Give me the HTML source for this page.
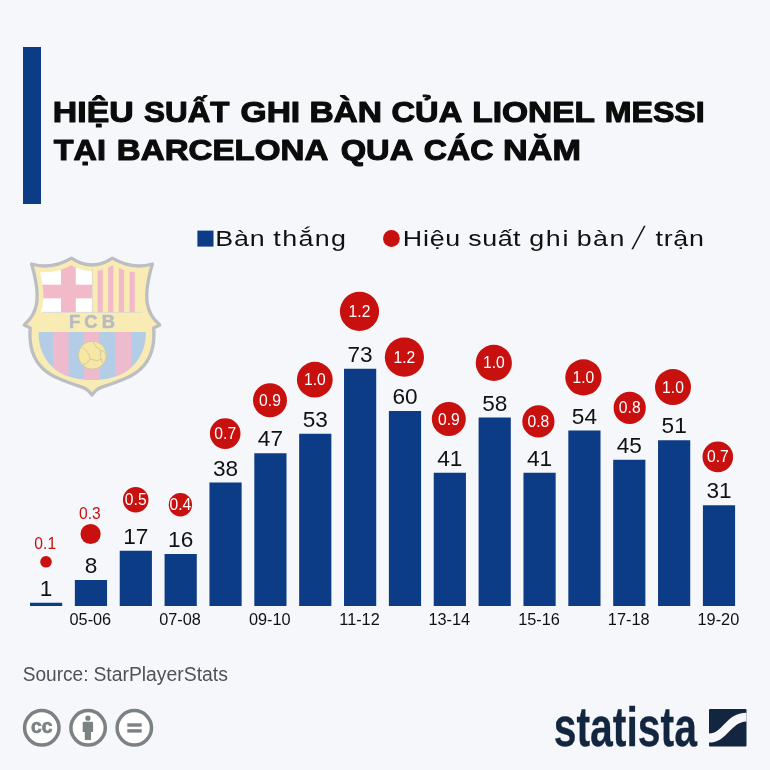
<!DOCTYPE html>
<html lang="vi"><head><meta charset="utf-8"><title>Hiệu suất ghi bàn của Lionel Messi</title>
<style>
html,body{margin:0;padding:0;background:#f5f7fb;}
body{width:770px;height:770px;overflow:hidden;font-family:"Liberation Sans",sans-serif;}
svg{display:block}
text{font-family:"Liberation Sans",sans-serif}
.t{font-weight:bold;font-size:30.2px;fill:#0b0b0b;stroke:#0b0b0b;stroke-width:1.1px;stroke-linejoin:round}
.lg{font-size:22px;fill:#111}
.v{font-size:22.6px;fill:#111;text-anchor:middle}
.e{font-size:16.5px;fill:#fff;text-anchor:middle}
.er{font-size:16.5px;fill:#c8100f;text-anchor:middle}
.ax{font-size:16.3px;fill:#111;text-anchor:middle}
.src{font-size:20px;fill:#505255}
.st{font-size:55px;font-weight:bold;fill:#13263f;stroke:#13263f;stroke-width:0.3px}
</style></head><body>
<svg width="770" height="770" viewBox="0 0 770 770">
<rect width="770" height="770" fill="#f5f7fb"/>
<rect x="23" y="47" width="18" height="157" fill="#0d3c86"/>
<text id="w0" class="t" transform="translate(52.84 121.8) scale(1.0 1)" textLength="80.76" lengthAdjust="spacingAndGlyphs">HIỆU</text>
<text id="w1" class="t" transform="translate(144.10 121.8) scale(1.0 1)" textLength="85.37" lengthAdjust="spacingAndGlyphs">SUẤT</text>
<text id="w2" class="t" transform="translate(240.52 121.8) scale(1.0 1)" textLength="59.68" lengthAdjust="spacingAndGlyphs">GHI</text>
<text id="w3" class="t" transform="translate(309.39 121.8) scale(1.0 1)" textLength="72.66" lengthAdjust="spacingAndGlyphs">BÀN</text>
<text id="w4" class="t" transform="translate(391.57 121.8) scale(1.0 1)" textLength="70.62" lengthAdjust="spacingAndGlyphs">CỦA</text>
<text id="w5" class="t" transform="translate(472.30 121.8) scale(1.0 1)" textLength="122.75" lengthAdjust="spacingAndGlyphs">LIONEL</text>
<text id="w6" class="t" transform="translate(604.63 121.8) scale(1.0 1)" textLength="100.15" lengthAdjust="spacingAndGlyphs">MESSI</text>
<text id="w7" class="t" transform="translate(53.82 160.2) scale(1.0 1)" textLength="52.18" lengthAdjust="spacingAndGlyphs">TẠI</text>
<text id="w8" class="t" transform="translate(116.86 160.2) scale(1.0 1)" textLength="211.42" lengthAdjust="spacingAndGlyphs">BARCELONA</text>
<text id="w9" class="t" transform="translate(340.69 160.2) scale(1.0 1)" textLength="72.56" lengthAdjust="spacingAndGlyphs">QUA</text>
<text id="w10" class="t" transform="translate(423.75 160.2) scale(1.0 1)" textLength="69.66" lengthAdjust="spacingAndGlyphs">CÁC</text>
<text id="w11" class="t" transform="translate(503.10 160.2) scale(1.0 1)" textLength="77.81" lengthAdjust="spacingAndGlyphs">NĂM</text>
<rect x="197.4" y="230.6" width="16.1" height="16" fill="#0d3c86"/>
<circle cx="391.4" cy="238.5" r="8.4" fill="#c8100f"/>
<text id="l0" class="lg" transform="translate(215.30 246.3) scale(1.22 1)" textLength="40.39" lengthAdjust="spacing">Bàn</text>
<text id="l1" class="lg" transform="translate(273.32 246.3) scale(1.22 1)" textLength="59.51" lengthAdjust="spacing">thắng</text>
<text id="l2" class="lg" transform="translate(402.82 246.3) scale(1.22 1)" textLength="47.05" lengthAdjust="spacing">Hiệu</text>
<text id="l3" class="lg" transform="translate(468.26 246.3) scale(1.22 1)" textLength="42.85" lengthAdjust="spacing">suất</text>
<text id="l4" class="lg" transform="translate(529.20 246.3) scale(1.22 1)" textLength="32.22" lengthAdjust="spacing">ghi</text>
<text id="l5" class="lg" transform="translate(576.72 246.3) scale(1.22 1)" textLength="39.03" lengthAdjust="spacing">bàn</text>
<text class="lg" text-anchor="middle" transform="translate(634.5 249.3) skewX(-19) scale(1 1.46)">/</text>
<text id="l7" class="lg" transform="translate(655.52 246.3) scale(1.22 1)" textLength="39.67" lengthAdjust="spacing">trận</text>
<g transform="translate(15 250) scale(0.19481)">
<defs>
<path id="sh" d="M85 72Q190 102 290 42Q395 112 500 42Q600 102 705 72C650 260 680 330 743 385L712 400C728 608 602 653 457 700Q415 712 395 745Q375 712 333 700C188 653 62 608 78 400L47 385C110 330 140 260 85 72Z"/>
<clipPath id="shc"><use href="#sh"/></clipPath>
<clipPath id="lowc"><path d="M120 420H672C672 575 567 668 396 668C225 668 120 575 120 420Z"/></clipPath>
</defs>
<use href="#sh" fill="#f8ecb4"/>
<g clip-path="url(#shc)">
<rect x="100" y="60" width="296" height="260" fill="#ffffff"/>
<rect x="236" y="60" width="76" height="260" fill="#f2bac9"/>
<rect x="100" y="178" width="296" height="70" fill="#f2bac9"/>
<rect x="400" y="60" width="300" height="260" fill="#f8ecb4"/>
<g fill="#f2bac9"><rect x="424" y="60" width="27" height="260"/><rect x="478" y="60" width="27" height="260"/><rect x="533" y="60" width="27" height="260"/><rect x="588" y="60" width="27" height="260"/></g>
<use href="#sh" fill="none" stroke="#f8ecb4" stroke-width="64"/>
<g fill="none" stroke="#d3d4d6" stroke-width="4"><path d="M140 320H655M397 95V320"/></g>
</g>
<g clip-path="url(#lowc)">
<rect x="110" y="420" width="580" height="260" fill="#b4cde6"/>
<g fill="#edbbcd"><rect x="195" y="420" width="80" height="260"/><rect x="355" y="420" width="80" height="260"/><rect x="515" y="420" width="82" height="260"/></g>
</g>
<use href="#sh" fill="none" stroke="#bdbec2" stroke-width="17" stroke-linejoin="round"/>
<circle cx="397" cy="540" r="72" fill="#f6e7a4" stroke="#cfc9a6" stroke-width="5"/>
<path d="M345 500Q380 520 385 560Q420 575 450 560M385 560Q370 590 345 590M400 470Q410 500 440 515Q465 520 468 540M440 515Q430 545 450 580" fill="none" stroke="#cfc9a6" stroke-width="5"/>
<text x="395" y="402" font-size="94" font-weight="bold" fill="#b9bbc0" stroke="#b9bbc0" stroke-width="3" text-anchor="middle" textLength="236" lengthAdjust="spacing" style="font-family:'Liberation Sans',sans-serif">FCB</text>
</g>

<rect x="30.00" y="602.75" width="32.2" height="3.25" fill="#0d3c86"/>
<text class="v" transform="translate(46.10 595.75) scale(1 1)">1</text>
<circle cx="46" cy="561.8" r="5.8" fill="#c8100f"/>
<text class="er" transform="translate(45.20 548.60) scale(0.95 1)">0.1</text>
<rect x="74.86" y="580.00" width="32.2" height="26.00" fill="#0d3c86"/>
<text class="v" transform="translate(90.96 573.00) scale(1 1)">8</text>
<circle cx="90.6" cy="534" r="10.1" fill="#c8100f"/>
<text class="er" transform="translate(89.80 518.80) scale(0.95 1)">0.3</text>
<rect x="119.72" y="550.75" width="32.2" height="55.25" fill="#0d3c86"/>
<text class="v" transform="translate(135.82 543.75) scale(1 1)">17</text>
<circle cx="135.7" cy="499.7" r="12.8" fill="#c8100f"/>
<text class="e" transform="translate(135.70 505.20) scale(0.95 1)">0.5</text>
<rect x="164.58" y="554.00" width="32.2" height="52.00" fill="#0d3c86"/>
<text class="v" transform="translate(180.68 547.00) scale(1 1)">16</text>
<circle cx="180.4" cy="504.8" r="11.7" fill="#c8100f"/>
<text class="e" transform="translate(180.40 510.30) scale(0.95 1)">0.4</text>
<rect x="209.44" y="482.50" width="32.2" height="123.50" fill="#0d3c86"/>
<text class="v" transform="translate(225.54 475.50) scale(1 1)">38</text>
<circle cx="225.2" cy="433.6" r="15.3" fill="#c8100f"/>
<text class="e" transform="translate(225.20 439.10) scale(0.95 1)">0.7</text>
<rect x="254.30" y="453.25" width="32.2" height="152.75" fill="#0d3c86"/>
<text class="v" transform="translate(270.40 446.25) scale(1 1)">47</text>
<circle cx="270" cy="400.3" r="17" fill="#c8100f"/>
<text class="e" transform="translate(270.00 405.80) scale(0.95 1)">0.9</text>
<rect x="299.16" y="433.75" width="32.2" height="172.25" fill="#0d3c86"/>
<text class="v" transform="translate(315.26 426.75) scale(1 1)">53</text>
<circle cx="314.8" cy="379.7" r="17.9" fill="#c8100f"/>
<text class="e" transform="translate(314.80 385.20) scale(0.95 1)">1.0</text>
<rect x="344.02" y="368.75" width="32.2" height="237.25" fill="#0d3c86"/>
<text class="v" transform="translate(360.12 361.75) scale(1 1)">73</text>
<circle cx="359.5" cy="311.4" r="19.6" fill="#c8100f"/>
<text class="e" transform="translate(359.50 316.90) scale(0.95 1)">1.2</text>
<rect x="388.88" y="411.00" width="32.2" height="195.00" fill="#0d3c86"/>
<text class="v" transform="translate(404.98 404.00) scale(1 1)">60</text>
<circle cx="404.4" cy="357.2" r="19.6" fill="#c8100f"/>
<text class="e" transform="translate(404.40 362.70) scale(0.95 1)">1.2</text>
<rect x="433.74" y="472.75" width="32.2" height="133.25" fill="#0d3c86"/>
<text class="v" transform="translate(449.84 465.75) scale(1 1)">41</text>
<circle cx="448.8" cy="419" r="17" fill="#c8100f"/>
<text class="e" transform="translate(448.80 424.50) scale(0.95 1)">0.9</text>
<rect x="478.60" y="417.50" width="32.2" height="188.50" fill="#0d3c86"/>
<text class="v" transform="translate(494.70 410.50) scale(1 1)">58</text>
<circle cx="493.8" cy="362.9" r="18.1" fill="#c8100f"/>
<text class="e" transform="translate(493.80 368.40) scale(0.95 1)">1.0</text>
<rect x="523.46" y="472.75" width="32.2" height="133.25" fill="#0d3c86"/>
<text class="v" transform="translate(539.56 465.75) scale(1 1)">41</text>
<circle cx="538.4" cy="421.4" r="16.1" fill="#c8100f"/>
<text class="e" transform="translate(538.40 426.90) scale(0.95 1)">0.8</text>
<rect x="568.32" y="430.50" width="32.2" height="175.50" fill="#0d3c86"/>
<text class="v" transform="translate(584.42 423.50) scale(1 1)">54</text>
<circle cx="583.4" cy="377.4" r="18.1" fill="#c8100f"/>
<text class="e" transform="translate(583.40 382.90) scale(0.95 1)">1.0</text>
<rect x="613.18" y="459.75" width="32.2" height="146.25" fill="#0d3c86"/>
<text class="v" transform="translate(629.28 452.75) scale(1 1)">45</text>
<circle cx="629.7" cy="407.9" r="16.1" fill="#c8100f"/>
<text class="e" transform="translate(629.70 413.40) scale(0.95 1)">0.8</text>
<rect x="658.04" y="440.25" width="32.2" height="165.75" fill="#0d3c86"/>
<text class="v" transform="translate(674.14 433.25) scale(1 1)">51</text>
<circle cx="673" cy="387.1" r="18.0" fill="#c8100f"/>
<text class="e" transform="translate(673.00 392.60) scale(0.95 1)">1.0</text>
<rect x="702.90" y="505.25" width="32.2" height="100.75" fill="#0d3c86"/>
<text class="v" transform="translate(719.00 498.25) scale(1 1)">31</text>
<circle cx="717.8" cy="456.9" r="15.3" fill="#c8100f"/>
<text class="e" transform="translate(717.80 462.40) scale(0.95 1)">0.7</text>
<text class="ax" x="90.36" y="624.8">05-06</text>
<text class="ax" x="180.08" y="624.8">07-08</text>
<text class="ax" x="269.80" y="624.8">09-10</text>
<text class="ax" x="359.52" y="624.8">11-12</text>
<text class="ax" x="449.24" y="624.8">13-14</text>
<text class="ax" x="538.96" y="624.8">15-16</text>
<text class="ax" x="628.68" y="624.8">17-18</text>
<text class="ax" x="718.40" y="624.8">19-20</text>
<text id="s0" class="src" transform="translate(22.69 681.0) scale(1.0 1)" textLength="65.82" lengthAdjust="spacingAndGlyphs">Source:</text>
<text id="s1" class="src" transform="translate(93.38 681.0) scale(1.0 1)" textLength="134.49" lengthAdjust="spacingAndGlyphs">StarPlayerStats</text>
<g fill="none" stroke="#7c8283" stroke-width="3.5">
<circle cx="41.8" cy="727.8" r="17.2" fill="#fff"/><circle cx="88.1" cy="727.8" r="17.2" fill="#fff"/><circle cx="134.3" cy="727.8" r="17.2" fill="#fff"/></g>
<text x="41.8" y="733.3" font-size="20.5px" font-weight="bold" fill="#7c8283" stroke="#7c8283" stroke-width="0.7" text-anchor="middle" textLength="21.5" lengthAdjust="spacingAndGlyphs">cc</text>
<g fill="#7c8283"><circle cx="87.9" cy="718.2" r="2.6"/><path d="M82.7 722.9q0-1.1 1.1-1.1h8.2q1.1 0 1.1 1.1v9.2h-2.1v7.9h-6.2v-7.9h-2.1z"/>
<rect x="127.3" y="723.3" width="14.4" height="3.4"/><rect x="127.3" y="729.2" width="14.4" height="3.4"/></g>
<text id="st" class="st" transform="translate(553.73 746.0) scale(1.0 1)" textLength="143.24" lengthAdjust="spacingAndGlyphs">statista</text>
<g transform="translate(709 709)"><rect width="37.5" height="37.5" rx="1" fill="#13263f"/>
<path d="M0 24.6C14 24.6 17 3.8 37.5 3.8V12.4C22 12.4 18 33.6 0 33.6Z" fill="#f5f7fb"/></g>
</svg></body></html>
